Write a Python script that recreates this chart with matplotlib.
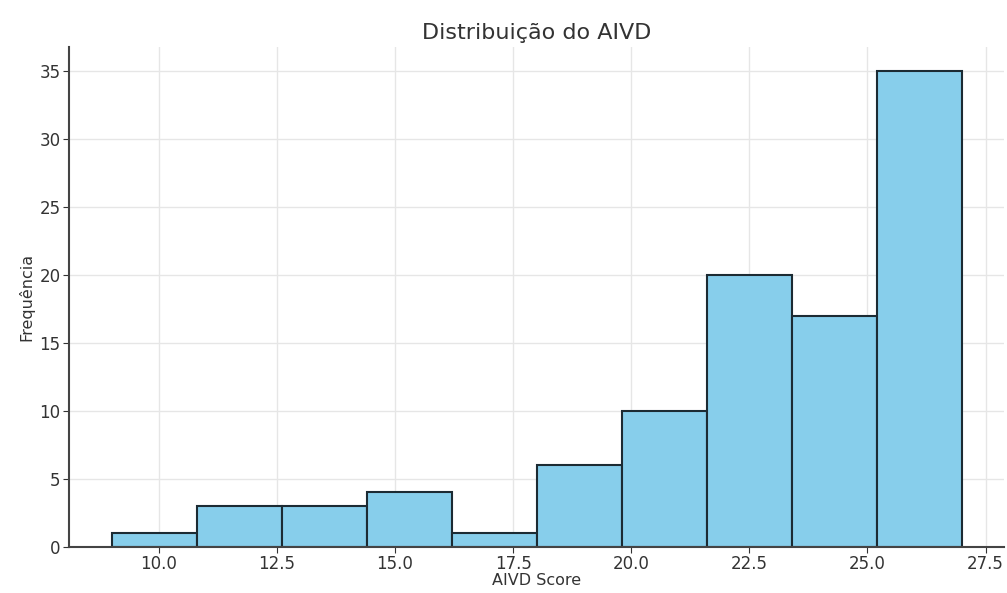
import matplotlib.pyplot as plt

bordas = [9.0, 10.8, 12.6, 14.4, 16.2, 18.0, 19.8, 21.6, 23.4, 25.2, 27.0]
frequencias = [1, 3, 3, 4, 1, 6, 10, 20, 17, 35]
xticks = [10.0, 12.5, 15.0, 17.5, 20.0, 22.5, 25.0, 27.5]
yticks = [0, 5, 10, 15, 20, 25, 30, 35]

fig = plt.figure(figsize=(10.07, 5.93), dpi=100)
ax = fig.add_axes([0.0685, 0.078, 0.929, 0.843])

ax.hist(bordas[:-1], bins=bordas, weights=frequencias,
        color="skyblue", edgecolor="#1c2b33", linewidth=1.5, zorder=2)

ax.set_xticks(xticks)
ax.set_xticklabels([f"{t:.1f}" for t in xticks])
ax.set_yticks(yticks)
ax.grid(True, color="#e6e6e6", linewidth=1.0, zorder=0)
ax.set_axisbelow(True)

for s in ["top", "right"]:
    ax.spines[s].set_visible(False)
for s in ["left", "bottom"]:
    ax.spines[s].set_color("#444444")
    ax.spines[s].set_linewidth(1.5)
ax.tick_params(colors="#333333", labelsize=12, length=4, pad=2)

ax.set_title("Distribuição do AIVD", fontsize=16, color="#333333", pad=6)
ax.set_xlabel("AIVD Score", fontsize=11.5, color="#333333", labelpad=0)
ax.set_ylabel("Frequência", fontsize=11.5, color="#333333", labelpad=4)

fig.savefig("out.png", dpi=100)
